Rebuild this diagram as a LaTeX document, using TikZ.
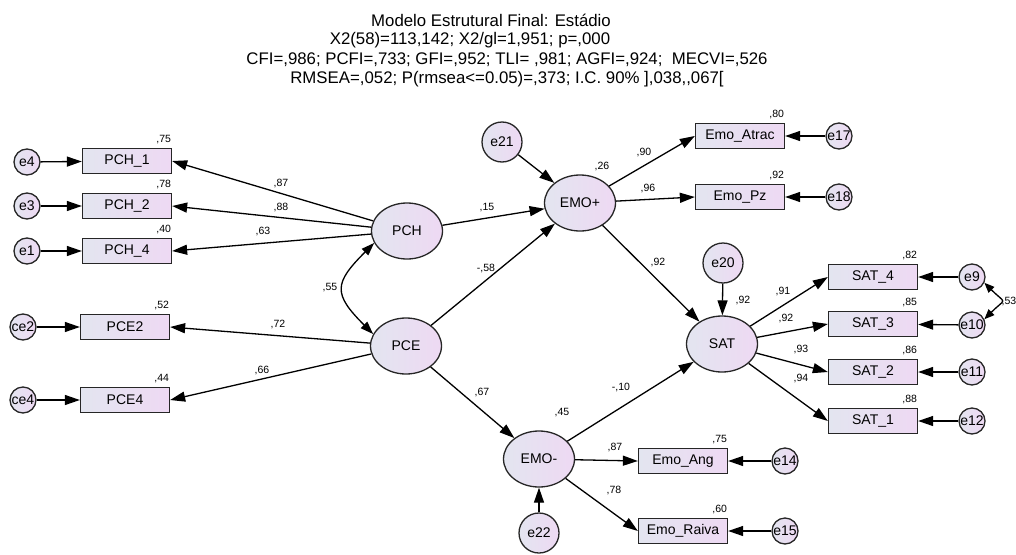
\documentclass[tikz,border=0pt]{standalone}
\usepackage{fontspec}
\setmainfont{Liberation Sans}
\usetikzlibrary{arrows.meta,positioning,shapes.geometric}
\definecolor{shl}{RGB}{227,229,240}
\definecolor{shr}{RGB}{238,217,243}
\tikzstyle{obs}=[draw=black!85,line width=1.3pt,rectangle,left color=shl,right color=shr,minimum width=89pt,minimum height=25pt,inner sep=0pt,font=\fontsize{14}{16}\selectfont]
\tikzstyle{lat}=[draw=black!85,line width=1.3pt,ellipse,left color=shl,right color=shr,minimum width=71pt,minimum height=56pt,inner sep=0pt,font=\fontsize{14}{16}\selectfont]
\tikzstyle{err}=[draw=black!85,line width=1.3pt,circle,left color=shl,right color=shr,minimum size=26pt,inner sep=0pt,font=\fontsize{14}{16}\selectfont]
\tikzstyle{dist}=[err,minimum size=40pt]
\tikzstyle{coef}=[font=\fontsize{10.5}{12}\selectfont,inner sep=1pt]
\tikzstyle{heading}=[font=\fontsize{16.8}{19.5}\selectfont,inner sep=0pt]
\tikzstyle{arr}=[-{Triangle[length=15pt,width=10pt]},line width=1.3pt]
\tikzstyle{cov}=[{Triangle[length=13pt,width=9pt]}-{Triangle[length=13pt,width=9pt]},line width=1.3pt]
\tikzstyle{covs}=[{Triangle[length=10pt,width=8pt]}-{Triangle[length=10pt,width=8pt]},line width=1.3pt]

\begin{document}
\begin{tikzpicture}[x=1pt,y=-1pt]
\useasboundingbox (0,0) rectangle (1016,554);

% title
\node[heading] (t1) at (491,20) {Modelo Estrutural Final: Estádio};
\node[heading] (t2) at (470,40) {X2(58)=113,142; X2/gl=1,951; p=,000};
\node[heading] (t3) at (507,60) {CFI=,986; PCFI=,733; GFI=,952; TLI= ,981; AGFI=,924;\ \ MECVI=,526};
\node[heading] (t4) at (507,79) {RMSEA=,052; P(rmsea<=0.05)=,373; I.C. 90\% ],038,\kern0pt,067[};

% latent variables
\node[lat] (pch) at (407,231) {PCH};
\node[lat] (pce) at (406,346) {PCE};
\node[lat] (emop) at (580,203) {EMO+};
\node[lat] (emom) at (539,459) {EMO-};
\node[lat] (sat) at (722,344) {SAT};

% indicators
\node[obs] (pch1) at (127,161) {PCH\_1};
\node[obs] (pch2) at (127,206) {PCH\_2};
\node[obs] (pch4) at (127,251) {PCH\_4};
\node[obs] (pce2) at (125,327) {PCE2};
\node[obs] (pce4) at (125,400) {PCE4};
\node[obs] (atrac) at (740,136) {Emo\_Atrac};
\node[obs] (pz) at (740,197) {Emo\_Pz};
\node[obs] (ang) at (683,461) {Emo\_Ang};
\node[obs] (raiva) at (683,531) {Emo\_Raiva};
\node[obs] (sat4) at (873,277) {SAT\_4};
\node[obs] (sat3) at (873,324) {SAT\_3};
\node[obs] (sat2) at (873,372) {SAT\_2};
\node[obs] (sat1) at (873,421) {SAT\_1};

% errors
\node[err] (e4) at (27,162) {e4};
\node[err] (e3) at (27,206) {e3};
\node[err] (e1) at (27,251) {e1};
\node[err] (ce2) at (23,327) {ce2};
\node[err] (ce4) at (23,400) {ce4};
\node[err] (e17) at (839,136) {e17};
\node[err] (e18) at (839,197) {e18};
\node[err] (e14) at (785,461) {e14};
\node[err] (e15) at (785,531) {e15};
\node[err] (e9) at (972,277) {e9};
\node[err] (e10) at (972,325) {e10};
\node[err] (e11) at (972,372) {e11};
\node[err] (e12) at (972,421) {e12};
\node[dist] (e21) at (502,142) {e21};
\node[dist] (e20) at (723,263) {e20};
\node[dist] (e22) at (539,533) {e22};

% paths
\draw[arr] (pch) -- (pch1.east);
\draw[arr] (pch) -- (pch2.east);
\draw[arr] (pch) -- (pch4.east);
\draw[arr] (pce) -- (pce2.east);
\draw[arr] (pce) -- (pce4.east);
\draw[arr] (pch) -- (emop);
\draw[arr] (pce) -- (emop);
\draw[arr] (pce) -- (emom);
\draw[arr] (emop) -- (sat);
\draw[arr] (emom) -- (sat);
\draw[arr] (emop) -- (atrac.west);
\draw[arr] (emop) -- (pz.west);
\draw[arr] (emom) -- (ang.west);
\draw[arr] (emom) -- (raiva.west);
\draw[arr] (sat) -- (sat4.west);
\draw[arr] (sat) -- (sat3.west);
\draw[arr] (sat) -- (sat2.west);
\draw[arr] (sat) -- (sat1.west);
\draw[arr] (e4) -- (pch1);
\draw[arr] (e3) -- (pch2);
\draw[arr] (e1) -- (pch4);
\draw[arr] (ce2) -- (pce2);
\draw[arr] (ce4) -- (pce4);
\draw[arr] (e17) -- (atrac);
\draw[arr] (e18) -- (pz);
\draw[arr] (e14) -- (ang);
\draw[arr] (e15) -- (raiva);
\draw[arr] (e9) -- (sat4);
\draw[arr] (e10) -- (sat3);
\draw[arr] (e11) -- (sat2);
\draw[arr] (e12) -- (sat1);
\draw[arr] (e21) -- (emop);
\draw[arr] (e20) -- (sat);
\draw[arr] (e22) -- (emom);
\draw[cov] (pch.200) to[out=225,in=135,looseness=1.6] (pce.160);
\draw[covs] (e9.-25) to[out=-45,in=45,looseness=2.2] (e10.25);

% weights
\node[coef] (w1) at (281,184) {,87};
\node[coef] (w2) at (281,208) {,88};
\node[coef] (w3) at (263,232) {,63};
\node[coef] (w4) at (330,288) {,55};
\node[coef] (w5) at (278,325) {,72};
\node[coef] (w6) at (262,370) {,66};
\node[coef] (w7) at (487,208) {,15};
\node[coef] (w8) at (486,269) {-,58};
\node[coef] (w9) at (644,153) {,90};
\node[coef] (w10) at (648,189) {,96};
\node[coef] (w11) at (658,263) {,92};
\node[coef] (w12) at (783,292) {,91};
\node[coef] (w13) at (786,319) {,92};
\node[coef] (w14) at (801,349) {,93};
\node[coef] (w15) at (801,378) {,94};
\node[coef] (w16) at (482,392) {,67};
\node[coef] (w17) at (621,387) {-,10};
\node[coef] (w18) at (615,447) {,87};
\node[coef] (w19) at (614,490) {,78};
\node[coef] (w20) at (1009,302) {,53};

% squared multiple correlations
\node[coef] (r1) at (602,167) {,26};
\node[coef] (r2) at (743,301) {,92};
\node[coef] (r3) at (562,413) {,45};
\node[coef,above left=3pt and 0pt of pch1.north east] (r4) {,75};
\node[coef,above left=3pt and 0pt of pch2.north east] (r5) {,78};
\node[coef,above left=3pt and 0pt of pch4.north east] (r6) {,40};
\node[coef,above left=3pt and 0pt of pce2.north east] (r7) {,52};
\node[coef,above left=3pt and 0pt of pce4.north east] (r8) {,44};
\node[coef,above left=3pt and 0pt of atrac.north east] (r9) {,80};
\node[coef,above left=3pt and 0pt of pz.north east] (r10) {,92};
\node[coef,above left=3pt and 0pt of ang.north east] (r11) {,75};
\node[coef,above left=3pt and 0pt of raiva.north east] (r12) {,60};
\node[coef,above left=3pt and 0pt of sat4.north east] (r13) {,82};
\node[coef,above left=3pt and 0pt of sat3.north east] (r14) {,85};
\node[coef,above left=3pt and 0pt of sat2.north east] (r15) {,86};
\node[coef,above left=3pt and 0pt of sat1.north east] (r16) {,88};
\end{tikzpicture}
\end{document}
